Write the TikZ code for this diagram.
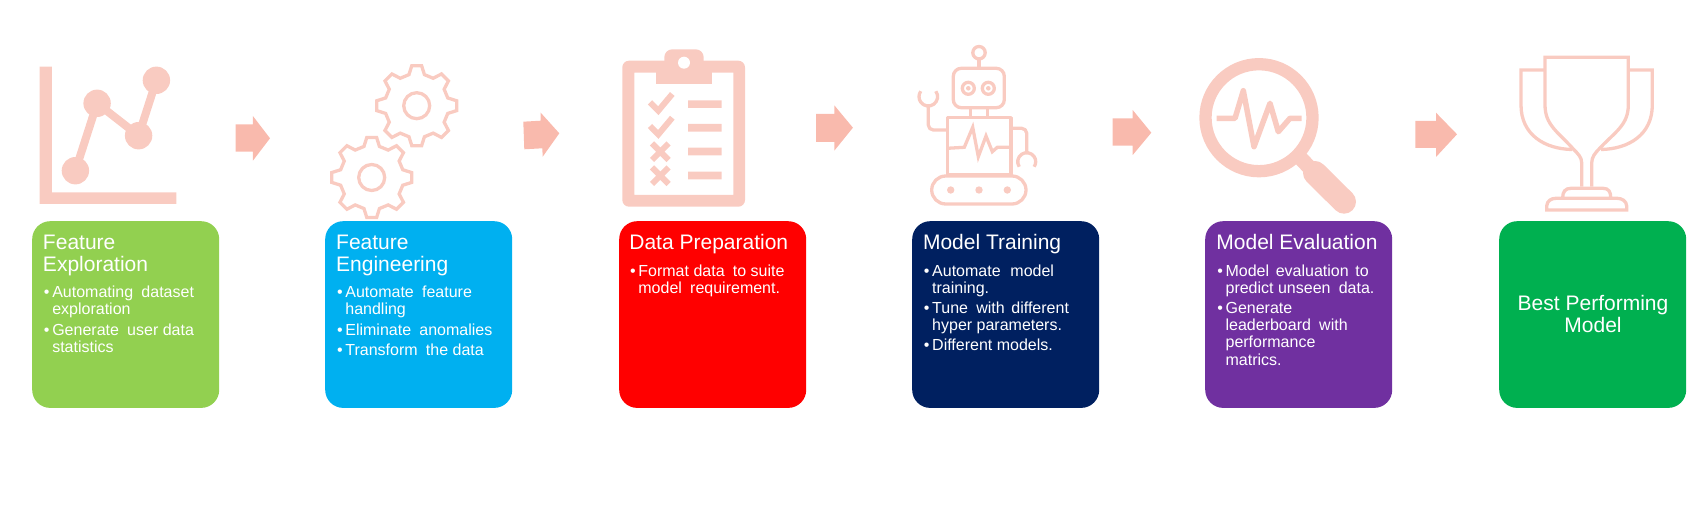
\documentclass[tikz,border=0pt]{standalone}
\usepackage{fontspec}
\setmainfont{Liberation Sans}
\usetikzlibrary{calc}
\definecolor{iconc}{HTML}{F9CBC1}
\definecolor{arrowc}{HTML}{F9BAAD}
\definecolor{cgreen}{HTML}{92D050}
\definecolor{cblue}{HTML}{00B0F0}
\definecolor{cred}{HTML}{FF0000}
\definecolor{cnavy}{HTML}{002060}
\definecolor{cpurple}{HTML}{7030A0}
\definecolor{cdgreen}{HTML}{00B050}
\newcommand\ttl{\rule{0pt}{17bp}}
\newcommand\bul{\llap{•\hspace{2.7bp}}\rule{0pt}{13bp}}
\newcommand\W{\hspace{3.8bp}}
\newcommand\Wm{\hspace{2.2bp}}
\tikzset{
  card/.style={draw=none,fill=#1,rounded corners=18bp,minimum width=187bp,minimum height=186.7bp,inner sep=0pt,anchor=north west},
  titletext/.style={inner sep=0pt,anchor=north west,align=left,text=white,font=\fontsize{21bp}{22bp}\selectfont},
  bodytext/.style={inner sep=0pt,anchor=north west,align=left,text=white,font=\fontsize{16bp}{17.2bp}\selectfont},
  flow/.style={fill=arrowc,draw=none},
  solid icon/.style={fill=iconc,draw=none},
  thin icon/.style={draw=iconc,line width=3.3bp,line join=round,fill=none},
  thick line/.style={draw=iconc,line width=#1,fill=none}
}
\newcommand\gear[1]{%
  \draw[thin icon,line join=miter]
    ($(#1)+(-104:32)$)
    \foreach \a in {0,45,...,315}{
      -- ($(#1)+(\a-97:40.3)$) -- ($(#1)+(\a-83:40.3)$) -- ($(#1)+(\a-76:32)$) -- ($(#1)+(\a-59:32)$)
    } -- cycle;
  \draw[thin icon] (#1) circle[radius=13];
}
\begin{document}
\begin{tikzpicture}[x=1bp,y=-1bp]
\useasboundingbox (0,0) rectangle (1688,516);
% cards
\node[card=cgreen]  (c1) at (32,221) {};
\node[card=cblue]   (c2) at (325,221) {};
\node[card=cred]    (c3) at (619,221) {};
\node[card=cnavy]   (c4) at (912,221) {};
\node[card=cpurple] (c5) at (1205,221) {};
\node[card=cdgreen] (c6) at (1499,221) {};
% card 1
\node[titletext] (t1) at (42.8,232) {\ttl Feature\\Exploration};
\node[bodytext] (a1) at (52.1,284) {\bul Automating\W{} dataset\\exploration};
\node[bodytext] (a2) at (52.1,322.3) {\bul Generate\W{} user data\\statistics};
% card 2
\node[titletext] (t2) at (336,232) {\ttl Feature\\Engineering};
\node[bodytext] (b1) at (345.2,284) {\bul Automate\W{} feature\\handling};
\node[bodytext] (b2) at (345.2,322.3) {\bul Eliminate\W{} anomalies};
\node[bodytext] (b3) at (345.2,342.3) {\bul Transform\W{} the data};
% card 3
\node[titletext] (t3) at (629.2,232.3) {\ttl Data Preparation};
\node[bodytext] (d1) at (638.2,263) {\bul Format data\W{} to suite\\model\W{} requirement.};
% card 4
\node[titletext] (t4) at (922.8,232.3) {\ttl Model Training};
\node[bodytext] (e1) at (932,263) {\bul Automate\W{}\hspace{1.5bp} model\\training.};
\node[bodytext] (e2) at (932,300.3) {\bul Tune\W{} with\Wm{} different\\hyper parameters.};
\node[bodytext] (e3) at (932,337) {\bul Different models.};
% card 5
\node[titletext] (t5) at (1216.2,232.3) {\ttl Model Evaluation};
\node[bodytext] (f1) at (1225.4,263) {\bul Model\Wm{} evaluation\Wm{} to\\predict unseen\W{} data.};
\node[bodytext] (f2) at (1225.4,300.3) {\bul Generate\\leaderboard\W{} with\\performance\\matrics.};
% card 6
\node[titletext,anchor=north,align=center] (t6) at (1593,293) {\ttl Best Performing\\Model};
% block arrows
\fill[flow] (235.7,124.3)--(252.9,124.3)--(252.9,116)--(270,138.3)--(252.9,160.7)--(252.9,151.7)--(235.7,151.7)--cycle;
\fill[flow] (523.3,121.7)--(540.7,120.7)--(540.7,112.7)--(559.3,133.3)--(542.7,156.7)--(542.3,148.3)--(524.3,149.3)--cycle;
\fill[flow] (816,114)--(834.3,114)--(834.3,105.3)--(852.9,127.7)--(834.3,150.7)--(834.3,142)--(816,142)--cycle;
\fill[flow] (1112.5,118.3)--(1132.7,118.3)--(1132.7,110)--(1151.3,132.7)--(1132.7,155)--(1132.7,145.7)--(1112.5,145.7)--cycle;
\fill[flow] (1415.3,121)--(1436,121)--(1436,112.7)--(1457,134.3)--(1436,157)--(1436,148)--(1415.3,148)--cycle;
% chart icon
\fill[solid icon] (39.6,66.7)--(51.8,66.7)--(51.8,192.3)--(176.4,192.3)--(176.4,204)--(39.6,204)--cycle;
\draw[thick line=8bp] (75.4,170.7)--(97.1,103.3)--(138.6,135.7)--(156.4,80.3);
\fill[solid icon] (75.4,170.7) circle[radius=13.7] (97.1,103.3) circle[radius=13.7] (138.6,135.7) circle[radius=13.7] (156.4,80.3) circle[radius=13.7];
% gears
\coordinate (g1) at (416.7,105.7);
\coordinate (g2) at (371.7,177.5);
\gear{g1}
\gear{g2}
% clipboard
\fill[solid icon,even odd rule]
  [rounded corners=6.7bp] (622.3,60.7) rectangle (745,206.7)
  [sharp corners] (634.3,72.7) rectangle (733.3,195);
\fill[solid icon] (656,60.7) rectangle (711.7,84.3);
\fill[solid icon,rounded corners=8bp] (664.3,49.3) rectangle (703.7,70);
\fill[white] (684,62.7) circle[radius=6];
\draw[thick line=6bp,miter limit=10] (650,102.3)--(658.3,110.7)--(672.3,94);
\draw[thick line=6bp,miter limit=10] (650,126)--(658.3,134.4)--(672.3,117.7);
\draw[thick line=6bp] (652,143.4)--(668.6,160) (652,160)--(668.6,143.4);
\draw[thick line=6bp] (652,167.4)--(668.6,184) (652,184)--(668.6,167.4);
\fill[solid icon] (688,100.3) rectangle (721.7,108)
  (688,124) rectangle (721.7,131.7)
  (688,147.7) rectangle (721.7,155.3)
  (688,171.7) rectangle (721.7,179.3);
% robot
\draw[thin icon] (979,52.7) circle[radius=6.2];
\draw[thin icon] (979,60)--(979,68.3);
\draw[thin icon,rounded corners=8bp] (953.3,68.3) rectangle (1004.3,107.7);
\draw[thin icon] (968.3,88.3) circle[radius=6] (988.3,88.3) circle[radius=6];
\fill[solid icon] (968.3,88.3) circle[radius=2.3] (988.3,88.3) circle[radius=2.3];
\draw[thin icon] (970.7,107.7)--(970.7,117.7) (987.3,107.7)--(987.3,117.7);
\draw[thin icon] (947.3,117.7) rectangle (1011,175);
\draw[thin icon,line join=miter,miter limit=10] (947.3,148.3)--(964.3,147.3)--(972.7,127.3)--(978.3,156.7)--(986,136)--(992.3,151.7)--(997.3,147.3)--(1011,147.3);
\draw[thin icon,rounded corners=5bp] (947.3,130)--(928.3,130)--(928.3,106);
\draw[thin icon] ($(928.3,96.7)+(-36:9.3)$) arc[start angle=-36,end angle=216,radius=9.3];
\draw[thin icon,rounded corners=5bp] (1011,128.3)--(1026.7,128.3)--(1026.7,153);
\draw[thin icon] ($(1026.7,161.7)+(146:9)$) arc[start angle=146,end angle=394,radius=9];
\draw[thin icon,rounded corners=14bp] (931.7,176) rectangle (1026,204);
\fill[solid icon] (950.7,190) circle[radius=3.7] (979,190) circle[radius=3.7] (1007.3,190) circle[radius=3.7];
% magnifier
\draw[thick line=12.3bp] (1259,117.7) circle[radius=53.5];
\draw[thick line=5.5bp,line join=round] (1216.7,118.3)--(1235,118.3)--(1243.3,90.7)--(1254,146.7)--(1270,103.3)--(1278.3,131.7)--(1290,118.3)--(1301.7,118.3);
\draw[thick line=15bp] (1299,156.5)--(1316,174.5);
\draw[thick line=24bp,line cap=round] (1315,173)--(1344,201.7);
% trophy
\draw[thin icon,line join=miter] (1581.7,186.7)--(1581.7,163) .. controls (1581.7,157) and (1578,154) .. (1573.3,149) .. controls (1558,132) and (1545,125) .. (1545,105)--(1545,57.3)--(1628.3,57.3)--(1628.3,105) .. controls (1628.3,125) and (1615,132) .. (1600,148) .. controls (1595,153) and (1591.7,157) .. (1591.7,163)--(1591.7,186.7);
\draw[thin icon,line join=miter] (1545,70)--(1521,70)--(1521,105) .. controls (1521,135) and (1545,149) .. (1572,149.5);
\draw[thin icon,line join=miter] (1628.3,70)--(1652.3,70)--(1652.3,105) .. controls (1652.3,135) and (1628.3,149) .. (1601,149.5);
\draw[thin icon,line join=miter] (1562.7,197.5) .. controls (1562.7,192) and (1565,188.3) .. (1571,188.3)--(1603,188.3) .. controls (1608.7,188.3) and (1610.7,192) .. (1610.7,197.5);
\draw[thin icon,line join=miter] (1546.7,210)--(1546.7,206) .. controls (1547,201) and (1551,198.3) .. (1556,198.3)--(1617,198.3) .. controls (1622,198.3) and (1626.4,201) .. (1626.7,206)--(1626.7,210)--cycle;
\end{tikzpicture}
\end{document}
